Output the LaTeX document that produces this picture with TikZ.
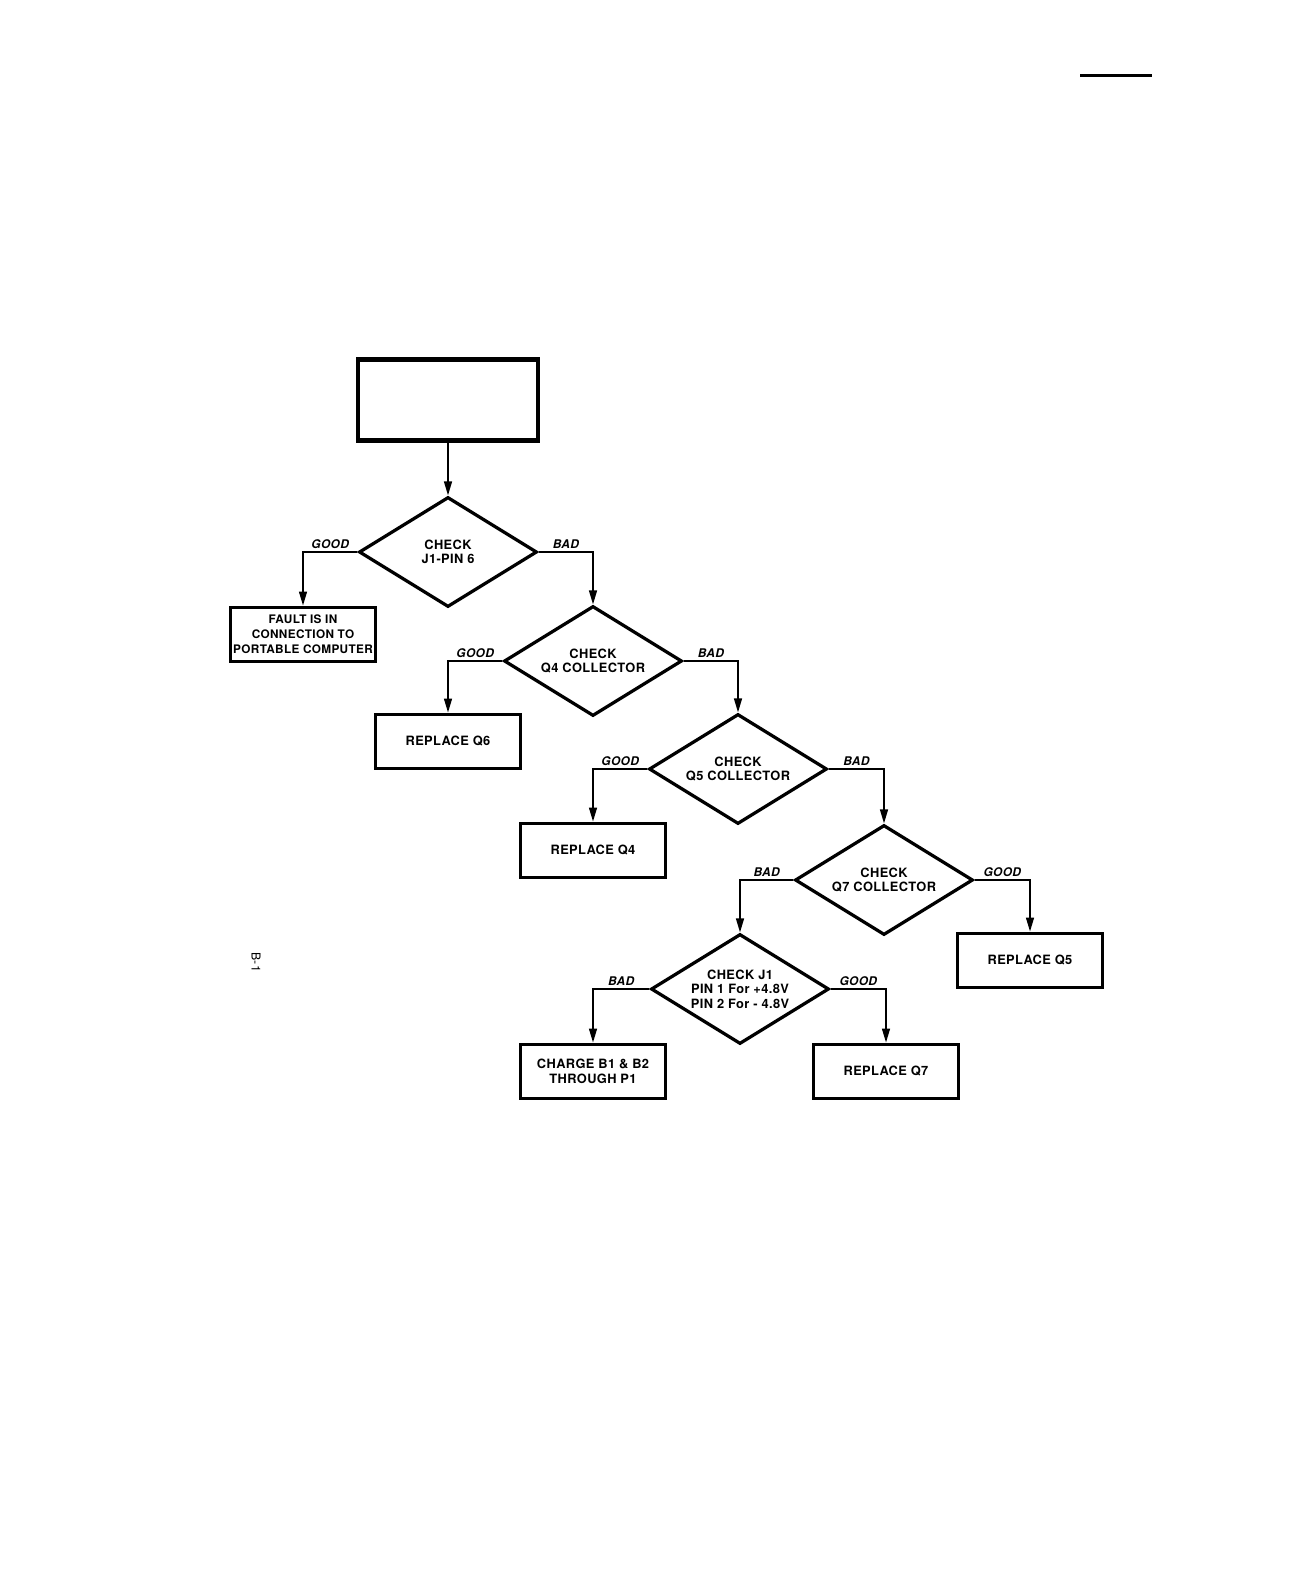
\documentclass[tikz,border=0pt]{standalone}
\usepackage{fontspec}
\newfontfamily\lettering[LetterSpace=3]{TeX Gyre Heros}
\usetikzlibrary{shapes.geometric, arrows.meta, positioning}

\tikzset{
    >={Triangle[length=2.8mm, width=1.6mm]},
    box/.style={rectangle, draw, line width=0.6mm, minimum width=29mm, minimum height=10.8mm,
        inner sep=0pt, align=center, font=\lettering\bfseries\fontsize{7.3}{8.5}\selectfont},
    check/.style={diamond, draw, line width=0.65mm, minimum width=35.6mm, minimum height=22mm,
        aspect=1.6, inner sep=0pt, align=center, font=\lettering\bfseries\fontsize{7.3}{8.3}\selectfont},
    conn/.style={->, line width=0.3mm},
    answer/.style={above, inner sep=0.6mm, font=\lettering\bfseries\itshape\fontsize{6.8}{8}\selectfont}
}

\begin{document}
\begin{tikzpicture}[x=0.2mm, y=-0.2mm]
    \useasboundingbox (0,0) rectangle (1292,1571);

    % page marks
    \draw[line width=0.6mm] (1080,76) -- (1152,76);
    \node[rotate=-90, font=\lettering\fontsize{7}{8}\selectfont] (page) at (256,962) {B-1};

    % start box
    \node[rectangle, draw, line width=0.9mm, minimum width=36mm, minimum height=16.2mm] (start) at (448,400) {};

    % checks
    \node[check] (c1) at (448,552) {CHECK\\J1-PIN 6};
    \node[check] (c2) at (593,661) {CHECK\\Q4 COLLECTOR};
    \node[check] (c3) at (738,769) {CHECK\\Q5 COLLECTOR};
    \node[check] (c4) at (884,880) {CHECK\\Q7 COLLECTOR};
    \node[check] (c5) at (740,989) {CHECK J1\\PIN 1 For +4.8V\\PIN 2 For - 4.8V};

    % results
    \node[box, font=\lettering\bfseries\fontsize{6.7}{8.4}\selectfont] (fault) at (303,634) {FAULT IS IN\\CONNECTION TO\\PORTABLE COMPUTER};
    \node[box] (q6) at (448,741) {REPLACE Q6};
    \node[box] (q4) at (593,850) {REPLACE Q4};
    \node[box] (q5) at (1030,960) {REPLACE Q5};
    \node[box] (charge) at (593,1071) {CHARGE B1 \& B2\\THROUGH P1};
    \node[box] (q7) at (886,1071) {REPLACE Q7};

    % connectors
    \draw[conn] (start) -- (c1);
    \draw[conn] (c1.west) -| node[answer, pos=0.25] (a1) {GOOD} (fault.north);
    \draw[conn] (c1.east) -| node[answer, pos=0.25] (a2) {BAD} (c2.north);
    \draw[conn] (c2.west) -| node[answer, pos=0.25] (a3) {GOOD} (q6.north);
    \draw[conn] (c2.east) -| node[answer, pos=0.25] (a4) {BAD} (c3.north);
    \draw[conn] (c3.west) -| node[answer, pos=0.25] (a5) {GOOD} (q4.north);
    \draw[conn] (c3.east) -| node[answer, pos=0.25] (a6) {BAD} (c4.north);
    \draw[conn] (c4.west) -| node[answer, pos=0.25] (a7) {BAD} (c5.north);
    \draw[conn] (c4.east) -| node[answer, pos=0.25] (a8) {GOOD} (q5.north);
    \draw[conn] (c5.west) -| node[answer, pos=0.25] (a9) {BAD} (charge.north);
    \draw[conn] (c5.east) -| node[answer, pos=0.25] (a10) {GOOD} (q7.north);
\end{tikzpicture}
\end{document}
